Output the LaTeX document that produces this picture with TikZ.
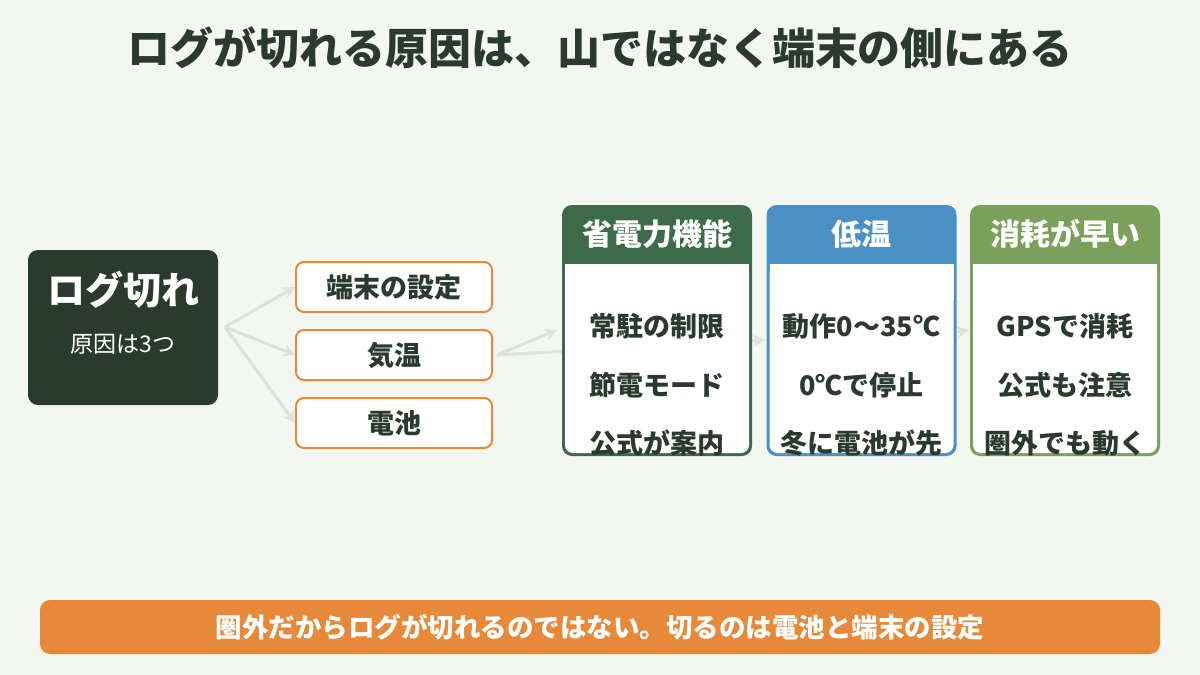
\documentclass[tikz,border=0pt]{standalone}
\usepackage{fontspec}
\setmainfont{Noto Sans CJK JP}
\usepackage{xcolor}
\usetikzlibrary{arrows.meta, positioning}
\definecolor{bgc}{HTML}{F4F6F1}
\definecolor{ink}{HTML}{2A3A2E}
\definecolor{rootc}{HTML}{2B3A2F}
\definecolor{orangec}{HTML}{E8893A}
\definecolor{greenc}{HTML}{3D6B47}
\definecolor{bluec}{HTML}{4A90C4}
\definecolor{leafc}{HTML}{7AA05A}
\definecolor{arrowc}{HTML}{DCE3DA}
\begin{document}
\begin{tikzpicture}[x=1pt, y=-1pt,
    cause/.style={draw=orangec, line width=2pt, fill=white, rounded corners=8pt, minimum width=196pt, minimum height=50pt, font=\fontsize{27}{30}\selectfont\bfseries, text=ink},
    link/.style={draw=arrowc, line width=3pt, -{Stealth[length=12pt, width=12pt]}},
    item/.style={font=\fontsize{27}{30}\selectfont\bfseries, text=ink},
    head/.style={font=\fontsize{30}{34}\selectfont\bfseries, text=white}
  ]
    \fill[bgc] (0,0) rectangle (1200,675);
    \node[font=\fontsize{43}{48}\selectfont\bfseries, text=ink] (title) at (600,48) {ログが切れる原因は、山ではなく端末の側にある};

    \node[fill=rootc, rounded corners=10pt, minimum width=190pt, minimum height=155pt] (root) at (123,327.5) {};
    \node[font=\fontsize{38}{42}\selectfont\bfseries, text=white] (rootTitle) at (123,290) {ログ切れ};
    \node[font=\fontsize{23}{26}\selectfont, text=white] (rootSub) at (123,344) {原因は3つ};

    \coordinate (fork) at (225,327);
    \coordinate (join) at (497,355);
    \coordinate (tipSaving) at (557,330);
    \coordinate (tipCold) at (765,340);
    \coordinate (tipDrain) at (969,330);
    \coordinate (fromCold) at (958,332);

    \node[cause] (settings) at (394,287) {端末の設定};
    \node[cause] (weather) at (394,355) {気温};
    \node[cause] (battery) at (394,423) {電池};

    \draw[link] (fork) -- (settings.west);
    \draw[link] (fork) -- (weather.west);
    \draw[link] (fork) -- (battery.west);
    \draw[link] (join) -- (tipSaving);
    \draw[link] (join) -- (tipCold);
    \draw[link] (fromCold) -- (tipDrain);

    % cards
    \foreach \cx/\col/\ttl/\a/\b/\c [count=\i] in {657/greenc/省電力機能/常駐の制限/節電モード/公式が案内,
        861.5/bluec/低温/動作0〜35℃/0℃で停止/冬に電池が先,
        1065/leafc/消耗が早い/GPSで消耗/公式も注意/圏外でも動く}{
      \fill[\col, rounded corners=10pt] (\cx-95,205) rectangle (\cx+95,456);
      \fill[white, rounded corners=8pt] (\cx-92,264) rectangle (\cx+92,453);
      \fill[white] (\cx-92,264) rectangle (\cx+92,300);
      \node[head] (head\i) at (\cx,234) {\ttl};
      \node[item] (itemA\i) at (\cx,326) {\a};
      \node[item] (itemB\i) at (\cx,385) {\b};
      \node[item] (itemC\i) at (\cx,443) {\c};
    }

    \node[fill=orangec, rounded corners=10pt, minimum width=1120pt, minimum height=54pt, font=\fontsize{26.5}{30}\selectfont\bfseries, text=white] (note) at (600,627) {圏外だからログが切れるのではない。切るのは電池と端末の設定};
\end{tikzpicture}
\end{document}
